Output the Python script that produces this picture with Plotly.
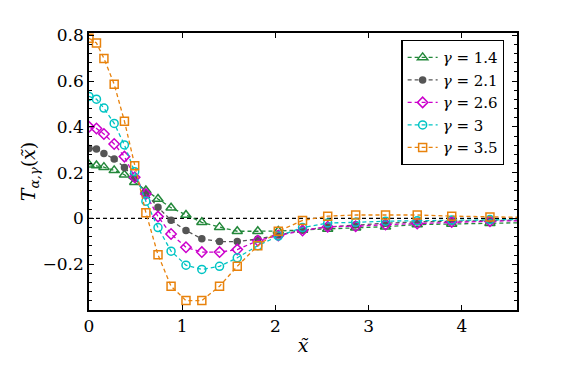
import plotly.graph_objects as go

# shared x grid (non-uniform)
x_tilde = [0, 0.08, 0.16, 0.27, 0.38, 0.49, 0.61, 0.74, 0.88, 1.04, 1.21, 1.40,
           1.59, 1.81, 2.03, 2.29, 2.56, 2.86, 3.18, 3.52, 3.89, 4.30, 4.75]

t_14 = [0.235, 0.231, 0.224, 0.210, 0.191, 0.158, 0.122, 0.085, 0.047, 0.015, -0.017, -0.038,
        -0.056, -0.056, -0.055, -0.050, -0.046, -0.041, -0.036, -0.027, -0.024, -0.021, -0.018]
t_21 = [0.306, 0.303, 0.284, 0.260, 0.223, 0.175, 0.110, 0.049, -0.008, -0.053, -0.089, -0.101,
        -0.101, -0.090, -0.072, -0.052, -0.037, -0.028, -0.021, -0.015, -0.011, -0.008, -0.006]
t_26 = [0.400, 0.393, 0.369, 0.325, 0.270, 0.180, 0.107, 0.008, -0.068, -0.126, -0.147, -0.147,
        -0.136, -0.097, -0.075, -0.053, -0.036, -0.034, -0.027, -0.022, -0.016, -0.012, -0.009]
t_30 = [0.533, 0.521, 0.482, 0.415, 0.321, 0.204, 0.075, -0.040, -0.143, -0.204, -0.223, -0.209,
        -0.172, -0.119, -0.077, -0.040, -0.020, -0.017, -0.012, -0.010, -0.007, -0.005, -0.004]
t_35 = [0.787, 0.766, 0.699, 0.586, 0.425, 0.230, 0.025, -0.159, -0.296, -0.359, -0.359, -0.296,
        -0.209, -0.119, -0.056, -0.009, 0.010, 0.015, 0.015, 0.015, 0.010, 0.006, 0.004]

gammas = ["1.4", "2.1", "2.6", "3", "3.5"]
series = [t_14, t_21, t_26, t_30, t_35]
colors = ["#23883a", "#555555", "#cc00cc", "#00c4c4", "#e8820c"]
symbols = ["triangle-up-open", "circle", "diamond-open", "circle-open", "square-open"]
sizes = [9, 6, 8, 8, 8]

fig = go.Figure()
for g, ys, c, s, sz in zip(gammas, series, colors, symbols, sizes):
    fig.add_trace(go.Scatter(
        x=x_tilde, y=ys, mode="lines+markers",
        name="<i>γ</i> = " + g,
        line=dict(color=c, width=1.3, dash="4px,3px"),
        marker=dict(symbol=s, size=sz, color=c, line=dict(color=c, width=1.5)),
    ))

fig.add_hline(y=0, line=dict(color="black", width=1.2, dash="4px,3px"), layer="below")

# page body has an 8px margin, so plot margins are shifted by it
font = "DejaVu Serif"
fig.update_layout(
    width=581, height=387,
    margin=dict(l=81, r=72, t=25, b=85),
    paper_bgcolor="white", plot_bgcolor="white",
    font=dict(family=font, size=17, color="black"),
    legend=dict(x=0.73, y=0.975, xanchor="left", yanchor="top",
                bordercolor="black", borderwidth=1.2, bgcolor="white",
                font=dict(size=15), tracegroupgap=0, itemwidth=30),
    showlegend=True,
)
fig.update_xaxes(
    range=[0, 4.59], tickvals=[0, 1, 2, 3, 4], automargin=False,
    showline=True, linecolor="black", linewidth=1.5, mirror="ticks",
    ticks="inside", ticklen=5, tickwidth=1.2, tickcolor="black",
    showgrid=False, zeroline=False,
    title=dict(text="<i>x̃</i>", standoff=4, font=dict(size=19)),
)
fig.update_yaxes(
    range=[-0.4, 0.81], tickvals=[-0.2, 0, 0.2, 0.4, 0.6, 0.8], automargin=False,
    ticktext=["−0.2", "0", "0.2", "0.4", "0.6", "0.8"],
    showline=True, linecolor="black", linewidth=1.5, mirror="ticks",
    ticks="inside", ticklen=5, tickwidth=1.2, tickcolor="black",
    minor=dict(ticks="inside", dtick=0.04, ticklen=3, tickcolor="black", tickwidth=1),
    showgrid=False, zeroline=False,
    title=dict(text="<i>T</i><sub><i>α,γ</i></sub>(<i>x̃</i>)", standoff=2, font=dict(size=19)),
)

fig.write_html("out.html")
